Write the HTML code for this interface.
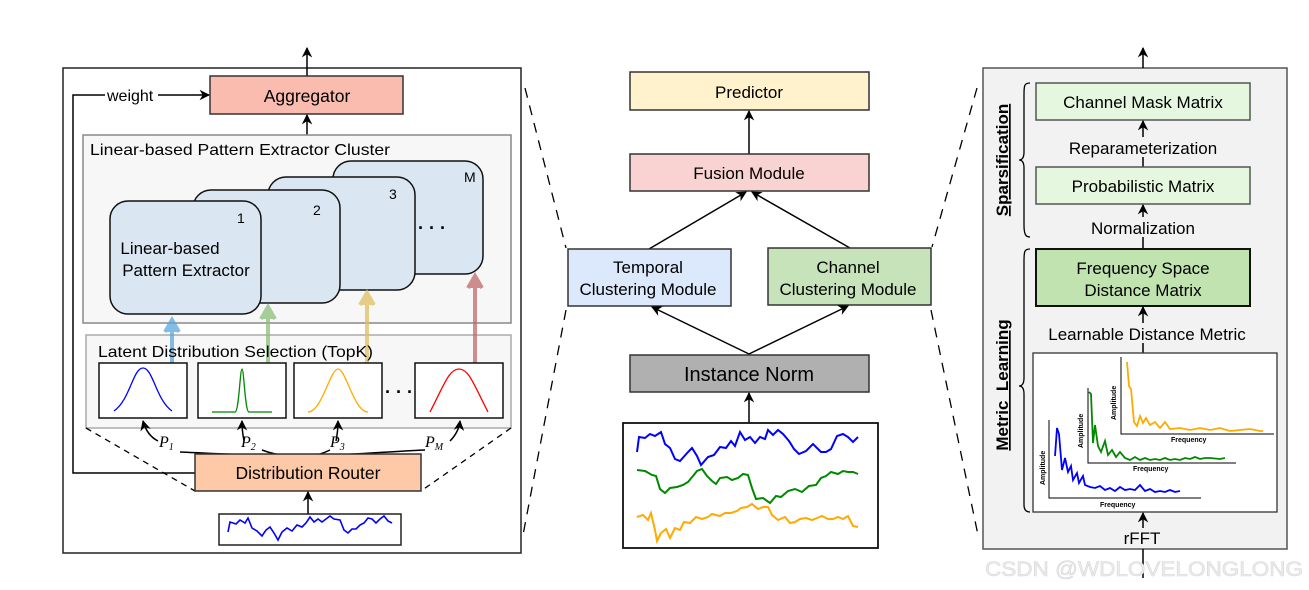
<!DOCTYPE html>
<html><head><meta charset="utf-8"><style>
html,body{margin:0;padding:0;background:#fff;}
svg{display:block;font-family:"Liberation Sans",sans-serif;}
</style></head><body>
<svg width="1309" height="590" viewBox="0 0 1309 590" xmlns="http://www.w3.org/2000/svg">
<defs>
<marker id="a" viewBox="0 0 10 10" refX="9" refY="5" markerWidth="7" markerHeight="7" orient="auto-start-reverse"><path d="M0,0 L10,5 L0,10 L3,5z" fill="#000"/></marker>
</defs>
<!-- LEFT PANEL -->
<rect x="63" y="68" width="458" height="485" fill="#fff" stroke="#222" stroke-width="1.5"/>
<line x1="307" y1="76" x2="307" y2="48" stroke="#000" stroke-width="1.5" marker-end="url(#a)"/>
<rect x="210" y="76" width="193" height="38" fill="#fbbcb0" stroke="#333" stroke-width="1.5"/>
<text x="307" y="102" font-size="17.5" text-anchor="middle">Aggregator</text>
<polyline points="195,473 73,473 73,95 105,95" fill="none" stroke="#000" stroke-width="1.5"/>
<text x="107" y="101" font-size="16">weight</text>
<line x1="158" y1="95" x2="209" y2="95" stroke="#000" stroke-width="1.5" marker-end="url(#a)"/>
<line x1="307" y1="135" x2="307" y2="115" stroke="#000" stroke-width="1.5" marker-end="url(#a)"/>
<rect x="83" y="135" width="428" height="188" fill="#f7f7f7" stroke="#888" stroke-width="1.5"/>
<text x="90" y="155" font-size="16" textLength="300" lengthAdjust="spacingAndGlyphs">Linear-based Pattern Extractor Cluster</text>
<rect x="333" y="161" width="150" height="113" rx="18" fill="#dae7f2" stroke="#111" stroke-width="1.5"/>
<rect x="268" y="177" width="147" height="113" rx="18" fill="#dae7f2" stroke="#111" stroke-width="1.5"/>
<rect x="193" y="190" width="147" height="113" rx="18" fill="#dae7f2" stroke="#111" stroke-width="1.5"/>
<rect x="110" y="201" width="151" height="113" rx="18" fill="#dae7f2" stroke="#111" stroke-width="1.5"/>
<text x="464" y="182" font-size="14">M</text>
<text x="389" y="199" font-size="14">3</text>
<text x="313" y="215" font-size="14">2</text>
<text x="237" y="223" font-size="14">1</text>
<text x="418" y="234" font-size="18" font-weight="bold">· · ·</text>
<text x="170" y="254" font-size="17" text-anchor="middle">Linear-based</text>
<text x="186" y="276" font-size="17" text-anchor="middle">Pattern Extractor</text>
<rect x="86" y="335" width="425" height="93" fill="#f7f7f7" stroke="#aaa" stroke-width="1.5"/>
<g stroke-width="4" opacity="0.75" fill="none">
<line x1="172" y1="363" x2="172" y2="326" stroke="#5aa8dd"/><path d="M165,332 L172,320 L179,332" fill="#5aa8dd" stroke="#5aa8dd"/>
<line x1="268" y1="363" x2="268" y2="313" stroke="#8cc07a"/><path d="M261,319 L268,307 L275,319" fill="#8cc07a" stroke="#8cc07a"/>
<line x1="367" y1="363" x2="367" y2="299" stroke="#e0c060"/><path d="M360,305 L367,293 L374,305" fill="#e0c060" stroke="#e0c060"/>
<line x1="475" y1="363" x2="475" y2="282" stroke="#c06a6a"/><path d="M468,288 L475,276 L482,288" fill="#c06a6a" stroke="#c06a6a"/>
</g>
<text x="98" y="357" font-size="16" textLength="275" lengthAdjust="spacingAndGlyphs">Latent Distribution Selection (TopK)</text>
<rect x="99" y="363" width="88" height="55" fill="#fff" stroke="#111" stroke-width="1.5"/>
<rect x="198" y="363" width="88" height="55" fill="#fff" stroke="#111" stroke-width="1.5"/>
<rect x="294" y="363" width="88" height="55" fill="#fff" stroke="#111" stroke-width="1.5"/>
<rect x="415" y="363" width="88" height="55" fill="#fff" stroke="#111" stroke-width="1.5"/>
<path d="M114,411 C130,400 133,368 143,368 C153,368 156,400 172,411" fill="none" stroke="#00f" stroke-width="1.3"/>
<path d="M212,412 L235,412 C239,412 240,369 242,369 C244,369 245,412 249,412 L272,412" fill="none" stroke="#080" stroke-width="1.3"/>
<path d="M308,412 C322,412 330,369 338,369 C346,369 354,412 368,412" fill="none" stroke="#fa0" stroke-width="1.3"/>
<path d="M430,412 C444,385 449,369 459,369 C469,369 474,385 488,412" fill="none" stroke="#f00" stroke-width="1.3"/>
<text x="385" y="398" font-size="18" font-weight="bold">· · ·</text>
<g fill="none" stroke="#000" stroke-width="1.5">
<path d="M158,441 C152,438 146,432 143,421" marker-end="url(#a)"/>
<path d="M180,452 C250,455 280,457 306,455"/>
<path d="M244,441 C243,436 242,430 242,421" marker-end="url(#a)"/>
<path d="M262,450 C280,457 300,457 306,455"/>
<path d="M336,441 C337,436 338,430 338,421" marker-end="url(#a)"/>
<path d="M330,450 C320,455 312,456 306,455"/>
<path d="M450,441 C454,437 459,430 460,421" marker-end="url(#a)"/>
<path d="M425,450 C380,452 340,456 306,455"/>
</g>
<g font-family="Liberation Serif" font-style="italic" font-size="16">
<text x="159" y="447">P<tspan font-size="10" dy="3">1</tspan></text>
<text x="241" y="447">P<tspan font-size="10" dy="3">2</tspan></text>
<text x="330" y="447">P<tspan font-size="10" dy="3">3</tspan></text>
<text x="425" y="447">P<tspan font-size="10" dy="3">M</tspan></text>
</g>
<line x1="86" y1="428" x2="195" y2="491" stroke="#000" stroke-width="1.3" stroke-dasharray="6,5"/>
<line x1="511" y1="428" x2="421" y2="491" stroke="#000" stroke-width="1.3" stroke-dasharray="6,5"/>
<rect x="195" y="454" width="226" height="37" fill="#fdc9a6" stroke="#333" stroke-width="1.5"/>
<text x="308" y="479" font-size="17.5" text-anchor="middle">Distribution Router</text>
<line x1="308" y1="514" x2="308" y2="492" stroke="#000" stroke-width="1.5" marker-end="url(#a)"/>
<rect x="219" y="514" width="182" height="31" fill="#fff" stroke="#222" stroke-width="1.5"/>
<polyline points="228,532 230,522 236,524 240,520 245,523 248,518 252,528 257,531 262,536 266,530 270,527 274,533 278,540 282,532 287,528 292,531 297,525 302,527 306,523 310,517 314,522 318,519 322,522 326,519 330,516 334,519 340,520 344,530 348,533 352,529 356,529 360,525 364,523 368,518 372,519 376,523 380,519 384,516 388,521 392,523" fill="none" stroke="#00f" stroke-width="1.6"/>
<!-- connecting dashes -->
<line x1="525" y1="88" x2="566" y2="248" stroke="#000" stroke-width="1.3" stroke-dasharray="10,8"/>
<line x1="566" y1="310" x2="523" y2="535" stroke="#000" stroke-width="1.3" stroke-dasharray="10,8"/>
<line x1="977" y1="88" x2="932" y2="247" stroke="#000" stroke-width="1.3" stroke-dasharray="10,8"/>
<line x1="931" y1="310" x2="978" y2="535" stroke="#000" stroke-width="1.3" stroke-dasharray="10,8"/>
<!-- MIDDLE -->
<rect x="630" y="72" width="239" height="38" fill="#fff2cc" stroke="#333" stroke-width="1.5"/>
<text x="749" y="98" font-size="17" text-anchor="middle">Predictor</text>
<line x1="749" y1="154" x2="749" y2="111" stroke="#000" stroke-width="1.5" marker-end="url(#a)"/>
<rect x="630" y="154" width="239" height="37" fill="#f8d3d1" stroke="#333" stroke-width="1.5"/>
<text x="749" y="179" font-size="17" text-anchor="middle">Fusion Module</text>
<line x1="649" y1="249" x2="746" y2="192" stroke="#000" stroke-width="1.5" marker-end="url(#a)"/>
<line x1="850" y1="248" x2="752" y2="192" stroke="#000" stroke-width="1.5" marker-end="url(#a)"/>
<rect x="568" y="249" width="163" height="57" fill="#dce8fc" stroke="#333" stroke-width="1.5"/>
<text x="648" y="273" font-size="17" text-anchor="middle">Temporal</text>
<text x="648" y="295" font-size="17" text-anchor="middle">Clustering Module</text>
<rect x="768" y="248" width="163" height="57" fill="#c6e3b9" stroke="#333" stroke-width="1.5"/>
<text x="848" y="273" font-size="17" text-anchor="middle">Channel</text>
<text x="848" y="295" font-size="17" text-anchor="middle">Clustering Module</text>
<line x1="749" y1="354" x2="652" y2="307" stroke="#000" stroke-width="1.5" marker-end="url(#a)"/>
<line x1="749" y1="354" x2="848" y2="306" stroke="#000" stroke-width="1.5" marker-end="url(#a)"/>
<rect x="630" y="355" width="239" height="37" fill="#b0b0b0" stroke="#333" stroke-width="1.5"/>
<text x="749" y="381" font-size="20" text-anchor="middle">Instance Norm</text>
<line x1="749" y1="423" x2="749" y2="393" stroke="#000" stroke-width="1.5" marker-end="url(#a)"/>
<rect x="623" y="423" width="255" height="125" fill="#fff" stroke="#111" stroke-width="1.8"/>
<polyline points="637,452 639,437 645,438 650,434 655,436 661,432 665,444 670,448 675,459 680,461 688,452 692,448 697,456 701,465 708,457 714,455 720,447 726,448 731,441 735,446 740,432 745,440 750,437 755,443 760,437 765,439 768,430 773,435 778,430 783,434 789,441 794,449 799,454 806,451 813,444 821,452 826,452 831,449 837,436 843,434 848,437 853,442 858,437" fill="none" stroke="#00f" stroke-width="2"/>
<polyline points="637,470 645,471 652,475 656,476 660,489 665,493 670,488 677,487 683,485 688,482 693,476 697,471 702,469 707,476 712,481 716,484 720,478 727,477 732,480 738,478 743,474 748,475 752,488 756,499 763,498 770,503 776,496 781,497 788,491 795,489 802,492 809,486 816,485 821,478 826,476 831,472 838,474 843,471 848,472 853,472 858,474" fill="none" stroke="#080" stroke-width="2"/>
<polyline points="637,517 643,515 648,520 651,513 655,530 657,541 661,533 666,529 670,538 675,528 680,530 684,522 690,523 696,517 702,519 708,517 712,514 720,516 725,513 731,513 737,511 741,508 747,507 752,504 758,509 763,507 768,507 772,515 778,520 785,517 790,523 795,522 800,519 806,518 812,520 817,518 822,516 828,519 833,519 838,517 843,519 848,516 853,526 858,527" fill="none" stroke="#fa0" stroke-width="2"/>
<!-- RIGHT PANEL -->
<rect x="983" y="68" width="304" height="481" fill="#f2f2f2" stroke="#555" stroke-width="1.5"/>
<line x1="1143" y1="68" x2="1143" y2="48" stroke="#000" stroke-width="1.5" marker-end="url(#a)"/>
<line x1="1143" y1="549" x2="1143" y2="578" stroke="#000" stroke-width="1.5"/>
<line x1="1143" y1="528" x2="1143" y2="513" stroke="#000" stroke-width="1.5" marker-end="url(#a)"/>
<rect x="1036" y="83" width="214" height="37" fill="#e6f7e0" stroke="#555" stroke-width="1.5"/>
<text x="1143" y="108" font-size="17" text-anchor="middle">Channel Mask Matrix</text>
<line x1="1143" y1="167" x2="1143" y2="121" stroke="#000" stroke-width="1.5" marker-end="url(#a)"/>
<rect x="1060" y="137" width="166" height="20" fill="#f2f2f2"/>
<text x="1143" y="154" font-size="17" text-anchor="middle">Reparameterization</text>
<rect x="1036" y="167" width="214" height="37" fill="#e6f7e0" stroke="#555" stroke-width="1.5"/>
<text x="1143" y="192" font-size="17" text-anchor="middle">Probabilistic Matrix</text>
<line x1="1143" y1="249" x2="1143" y2="205" stroke="#000" stroke-width="1.5" marker-end="url(#a)"/>
<rect x="1085" y="217" width="116" height="20" fill="#f2f2f2"/>
<text x="1143" y="234" font-size="17" text-anchor="middle">Normalization</text>
<rect x="1036" y="249" width="214" height="57" fill="#c0e3b0" stroke="#111" stroke-width="2"/>
<text x="1143" y="274" font-size="17" text-anchor="middle">Frequency Space</text>
<text x="1143" y="296" font-size="17" text-anchor="middle">Distance Matrix</text>
<line x1="1143" y1="353" x2="1143" y2="307" stroke="#000" stroke-width="1.5" marker-end="url(#a)"/>
<rect x="1043" y="323" width="210" height="20" fill="#f2f2f2"/>
<text x="1147" y="340" font-size="17" text-anchor="middle">Learnable Distance Metric</text>
<rect x="1033" y="353" width="244" height="159" fill="#fff" stroke="#333" stroke-width="1.3"/>
<text x="1142" y="544" font-size="17" text-anchor="middle">rFFT</text>
<!-- charts -->
<g stroke="#000" stroke-width="1" fill="none">
<polyline points="1049,420 1049,498 1201,498"/><polyline points="1088,388 1088,463 1236,463"/><polyline points="1121,357 1121,434 1274,434"/>
</g>
<g font-size="7" font-weight="bold">
<text x="1100" y="507">Frequency</text><text x="1133" y="471">Frequency</text><text x="1171" y="442">Frequency</text>
<text transform="translate(1045,485) rotate(-90)">Amplitude</text>
<text transform="translate(1083,448) rotate(-90)">Amplitude</text>
<text transform="translate(1116,420) rotate(-90)">Amplitude</text>
</g>
<polyline points="1055,456 1057,428 1059,434 1062,470 1065,458 1068,472 1071,466 1073,480 1077,473 1079,483 1083,476 1085,485 1090,487 1095,488 1100,486 1105,490 1110,488 1115,491 1120,487 1125,490 1130,489 1135,490 1140,485 1145,491 1150,489 1155,492 1160,491 1165,492 1170,490 1175,492 1180,491" fill="none" stroke="#00f" stroke-width="1.8"/>
<polyline points="1089,392 1091,394 1093,443 1095,425 1098,446 1101,452 1105,441 1108,455 1112,450 1116,457 1120,452 1125,458 1130,460 1135,457 1140,460 1145,458 1150,460 1155,459 1160,460 1165,458 1170,460 1175,459 1180,460 1185,458 1190,459 1195,457 1200,459 1205,458 1210,458 1220,459 1225,458" fill="none" stroke="#080" stroke-width="1.8"/>
<polyline points="1127,362 1129,386 1131,389 1134,422 1137,426 1140,416 1143,423 1146,418 1150,425 1155,422 1160,428 1165,422 1170,429 1180,428 1190,430 1200,428 1210,430 1220,428 1230,431 1240,430 1250,429 1260,431 1263,431" fill="none" stroke="#fa0" stroke-width="1.8"/>
<!-- braces -->
<path d="M1030,83 C1024,83 1024,86 1024,95 L1024,152 C1024,158 1022,160 1019,160 C1022,160 1024,162 1024,168 L1024,225 C1024,235 1026,237 1030,237" fill="none" stroke="#000" stroke-width="1.3"/>
<path d="M1030,249 C1024,249 1024,252 1024,262 L1024,378 C1024,384 1022,386 1019,386 C1022,386 1024,388 1024,394 L1024,505 C1024,510 1026,512 1030,512" fill="none" stroke="#000" stroke-width="1.3"/>
<text transform="translate(1008,160) rotate(-90)" font-size="17" font-weight="bold" text-anchor="middle" text-decoration="underline">Sparsification</text>
<text transform="translate(1008,385) rotate(-90)" font-size="17" font-weight="bold" text-anchor="middle" text-decoration="underline" xml:space="preserve">Metric  Learning</text>
<text x="985" y="576" font-size="21" fill="#ececec" stroke="#d8d8d8" stroke-width="0.6" textLength="318" lengthAdjust="spacingAndGlyphs">CSDN @WDLOVELONGLONG</text>
</svg>
</body></html>
